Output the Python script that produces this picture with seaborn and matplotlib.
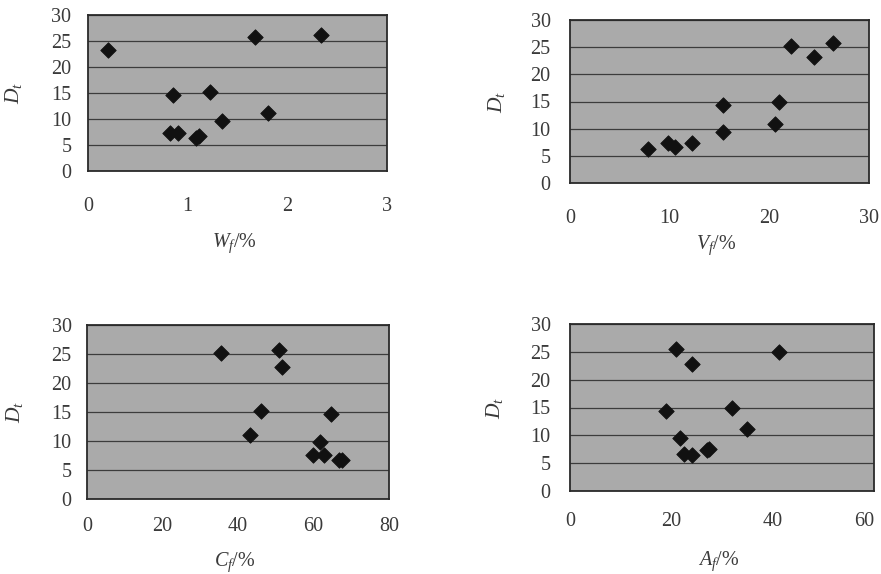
import numpy as np
import pandas as pd
import matplotlib
matplotlib.use("Agg")
import matplotlib.pyplot as plt
import seaborn as sns

# ---- data ----
w_f = [0.20, 1.68, 2.34, 0.85, 1.22, 1.81, 1.34, 0.82, 0.90, 1.08, 1.11]
d_w = [23.3, 25.8, 26.2, 14.6, 15.1, 11.2, 9.6, 7.4, 7.4, 6.4, 6.8]

v_f = [7.8, 9.8, 10.5, 12.2, 15.4, 15.4, 20.6, 21.0, 22.2, 24.5, 26.4]
d_v = [6.3, 7.3, 6.7, 7.3, 14.4, 9.4, 10.9, 15.0, 25.3, 23.1, 25.7]

c_f = [35.4, 50.8, 51.7, 46.2, 43.1, 64.7, 61.8, 59.8, 62.9, 66.7, 67.6]
d_c = [25.2, 25.7, 22.8, 15.1, 11.1, 14.7, 9.9, 7.6, 7.6, 6.7, 6.7]

a_f = [20.9, 24.0, 41.3, 18.9, 32.0, 34.9, 21.7, 22.5, 24.0, 27.0, 27.5]
d_a = [25.5, 22.8, 25.0, 14.4, 15.0, 11.1, 9.6, 6.7, 6.5, 7.4, 7.5]

x_labels = [r"$W_f$/%", r"$V_f$/%", r"$C_f$/%", r"$A_f$/%"]
y_label = r"$D_t$"
x_limits = [(0, 3), (0, 30), (0, 80), (0, 60)]
x_ticks = [[0, 1, 2, 3], [0, 10, 20, 30], [0, 20, 40, 60, 80], [0, 20, 40, 60]]
y_ticks = [0, 5, 10, 15, 20, 25, 30]

sns.set_style("white")
plt.rcParams['font.family'] = ['Liberation Serif', 'DejaVu Serif']
plt.rcParams['mathtext.fontset'] = 'custom'
plt.rcParams['mathtext.it'] = 'Liberation Serif:italic'
plt.rcParams['mathtext.rm'] = 'Liberation Serif'

fig = plt.figure(figsize=(8.81, 5.74), dpi=100)

W, H = 881.0, 574.0
boxes = [  # left, right, top, bottom in pixels
    (88, 387, 15, 171),
    (570, 869, 20, 183),
    (87, 389, 325, 499),
    (570, 874, 324, 491),
]
xpads = [19, 19, 13, 15]
ypads = [12, 14, 11, 14]
xlab_y = [-0.385, -0.31, -0.295, -0.35]
ylab_x = [-0.214, -0.21, -0.205, -0.214]

datasets = [(w_f, d_w), (v_f, d_v), (c_f, d_c), (a_f, d_a)]
text_col = "#3a3a3a"

for i, ((xs, ys), (l, r, t, b)) in enumerate(zip(datasets, boxes)):
    ax = fig.add_axes([l / W, (H - b) / H, (r - l) / W, (b - t) / H])
    ax.set_facecolor("#aaaaaa")
    df = pd.DataFrame({"x": xs, "y": ys})
    sns.scatterplot(data=df, x="x", y="y", ax=ax, marker="D", s=62,
                    color="#111111", edgecolor="#111111", linewidth=0.6, zorder=3)
    ax.set_xlim(*x_limits[i])
    ax.set_ylim(0, 30)
    ax.set_xticks(x_ticks[i])
    ax.set_yticks(y_ticks)
    ax.yaxis.grid(True, color="#3c3c3c", linewidth=0.9)
    ax.xaxis.grid(False)
    ax.set_axisbelow(True)
    for sp in ax.spines.values():
        sp.set_color("#2a2a2a")
        sp.set_linewidth(1.3)
    ax.tick_params(axis="x", length=0, pad=xpads[i], labelsize=14.5, labelcolor=text_col)
    ax.tick_params(axis="y", length=0, pad=ypads[i], labelsize=14.5, labelcolor=text_col)
    ax.set_xlabel(x_labels[i], fontsize=14.5, color=text_col)
    ax.set_ylabel(y_label, fontsize=15.5, color=text_col)
    ax.xaxis.set_label_coords(0.49, xlab_y[i])
    ax.yaxis.set_label_coords(ylab_x[i], 0.5)
    if i == 3:
        ax.get_xticklabels()[-1].set_horizontalalignment("right")

fig.savefig("out.png", dpi=100, facecolor="white")
